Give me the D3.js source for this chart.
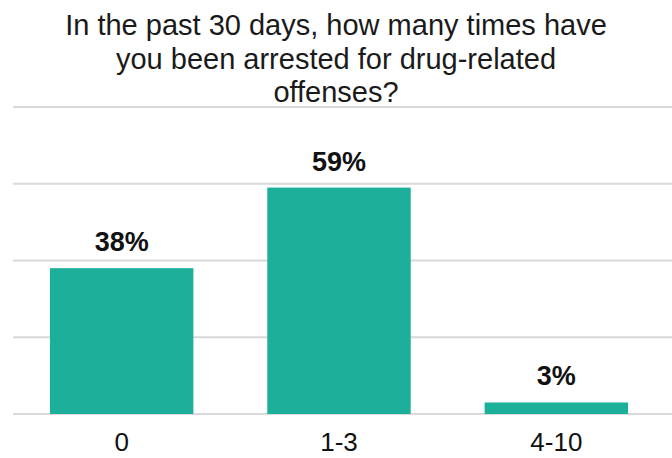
<!DOCTYPE html>
<html>
<head>
<meta charset="utf-8">
<script src="https://cdn.jsdelivr.net/npm/d3@7"></script>
<style>
  html, body { margin: 0; padding: 0; background: #fff; }
  svg { display: block; }
</style>
</head>
<body>
<svg id="chart" width="672" height="458"></svg>
<script>
const titleLines = ["In the past 30 days, how many times have", "you been arrested for drug-related", "offenses?"];
const categories = ["0", "1-3", "4-10"];
const values = [38, 59, 3];
const gridTicks = [0, 20, 40, 60, 80];

const W = 672, H = 458;
const font = "'Liberation Sans', Arial, Helvetica, sans-serif";
const svg = d3.select("#chart");

const x = d3.scaleBand().domain(categories).range([13, 665]).paddingInner(0.34).paddingOuter(0.17);
const y = d3.scaleLinear().domain([0, 80]).range([414, 107]);

// gridlines
svg.append("g").selectAll("line").data(gridTicks).join("line")
  .attr("x1", 13).attr("x2", W)
  .attr("y1", d => y(d)).attr("y2", d => y(d))
  .attr("stroke", "#d9d9d9").attr("stroke-width", 2);

// title
svg.append("g").selectAll("text").data(titleLines).join("text")
  .attr("x", W / 2).attr("y", (d, i) => 35 + i * 33.5)
  .attr("text-anchor", "middle")
  .attr("font-family", font).attr("font-size", 29).attr("fill", "#1a1a1a")
  .text(d => d);

const data = categories.map((c, i) => ({ c, v: values[i] }));

// bars
svg.append("g").selectAll("rect").data(data).join("rect")
  .attr("x", d => x(d.c)).attr("width", x.bandwidth())
  .attr("y", d => y(d.v)).attr("height", d => y(0) - y(d.v))
  .attr("fill", "#1cb09a");

// value labels
svg.append("g").selectAll("text").data(data).join("text")
  .attr("x", d => x(d.c) + x.bandwidth() / 2)
  .attr("y", d => y(d.v) - 17)
  .attr("text-anchor", "middle")
  .attr("font-family", font).attr("font-size", 27).attr("font-weight", "bold").attr("fill", "#111")
  .text(d => d.v + "%");

// x axis labels
const xAxis = d3.axisBottom(x).tickSize(0).tickPadding(0);
const gx = svg.append("g").attr("transform", "translate(0,414)").call(xAxis);
gx.select(".domain").remove();
gx.selectAll("text")
  .attr("dy", null).attr("y", 37)
  .attr("font-family", font).attr("font-size", 26).attr("fill", "#111");
</script>
</body>
</html>
